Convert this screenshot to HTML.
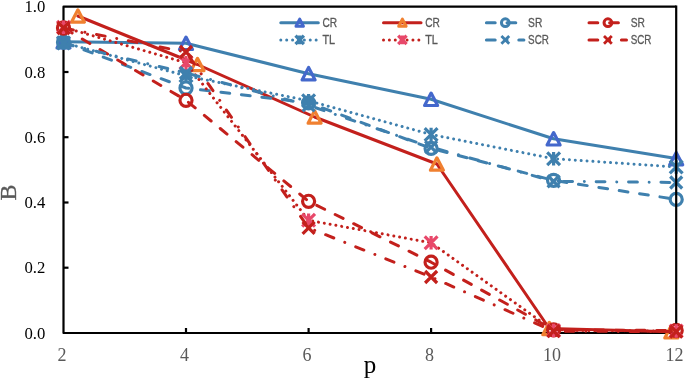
<!DOCTYPE html>
<html><head><meta charset="utf-8"><title>chart</title>
<style>
html,body{margin:0;padding:0;background:#fff;}
svg{display:block;will-change:transform;}
.yt{font-family:"Liberation Serif",serif;font-size:16.7px;fill:#000;text-anchor:end;}
.xt{font-family:"Liberation Serif",serif;font-size:18px;fill:#595959;text-anchor:middle;}
.lg{font-family:"Liberation Sans",sans-serif;font-size:12.8px;fill:#595959;stroke:#595959;stroke-width:0.3px;}
</style></head><body>
<svg width="685" height="379" viewBox="0 0 685 379">
<rect width="685" height="379" fill="#fff"/>
<g stroke="#000" stroke-width="2.2" fill="none" stroke-linecap="square">
<path d="M676.2 6.7H63.5V333H676.2" stroke-linejoin="round" stroke-linecap="butt"/>
<path d="M63.5 267.7h5" stroke-linecap="butt"/>
<path d="M63.5 202.5h5" stroke-linecap="butt"/>
<path d="M63.5 137.2h5" stroke-linecap="butt"/>
<path d="M63.5 72.0h5" stroke-linecap="butt"/>
<path d="M186.0 333v-5" stroke-linecap="butt"/>
<path d="M308.6 333v-5" stroke-linecap="butt"/>
<path d="M431.1 333v-5" stroke-linecap="butt"/>
<path d="M553.6 333v-5" stroke-linecap="butt"/>
</g>
<text class="yt" x="45.3" y="338.6">0.0</text>
<text class="yt" x="45.3" y="273.3">0.2</text>
<text class="yt" x="45.3" y="208.1">0.4</text>
<text class="yt" x="45.3" y="142.8">0.6</text>
<text class="yt" x="45.3" y="77.6">0.8</text>
<text class="yt" x="45.3" y="12.3">1.0</text>
<text class="xt" x="61.9" y="360.6">2</text>
<text class="xt" x="184.4" y="360.6">4</text>
<text class="xt" x="307.0" y="360.6">6</text>
<text class="xt" x="429.5" y="360.6">8</text>
<text class="xt" x="552.0" y="360.6">10</text>
<text class="xt" x="674.6" y="360.6">12</text>
<text x="369.9" y="372.6" text-anchor="middle" font-family="'Liberation Serif',serif" font-size="25" fill="#000">p</text>
<text transform="translate(16.0 192.5) rotate(-90)" text-anchor="middle" font-family="'Liberation Serif',serif" font-size="24" fill="#595959" stroke="#595959" stroke-width="0.35">B</text>
<path d="M63.5 41.8L186.0 43.3L308.6 73.7L431.1 99.3L553.6 138.8L676.2 158.6" fill="none" stroke="#3F80AE" stroke-width="3.0" stroke-linejoin="round" stroke-linecap="round"/>
<path d="M63.5 35.6L70.0 48.0L57.0 48.0Z" fill="none" stroke="#4468CC" stroke-width="3.2" stroke-linejoin="round"/>
<path d="M186.0 37.1L192.5 49.5L179.5 49.5Z" fill="none" stroke="#4468CC" stroke-width="3.2" stroke-linejoin="round"/>
<path d="M308.6 67.5L315.1 79.9L302.1 79.9Z" fill="none" stroke="#4468CC" stroke-width="3.2" stroke-linejoin="round"/>
<path d="M431.1 93.1L437.6 105.5L424.6 105.5Z" fill="none" stroke="#4468CC" stroke-width="3.2" stroke-linejoin="round"/>
<path d="M553.6 132.6L560.1 145.0L547.1 145.0Z" fill="none" stroke="#4468CC" stroke-width="3.2" stroke-linejoin="round"/>
<path d="M676.2 152.4L682.7 164.8L669.7 164.8Z" fill="none" stroke="#4468CC" stroke-width="3.2" stroke-linejoin="round"/>
<path d="M77.9 16.0L197.5 64.5L314.6 117.0L436.9 164.0L549.3 328.5L671.3 331.8" fill="none" stroke="#C3201C" stroke-width="3.0" stroke-linejoin="round" stroke-linecap="round"/>
<path d="M77.9 9.8L84.4 22.2L71.4 22.2Z" fill="none" stroke="#F08030" stroke-width="3.2" stroke-linejoin="round"/>
<path d="M197.5 58.3L204.0 70.7L191.0 70.7Z" fill="none" stroke="#F08030" stroke-width="3.2" stroke-linejoin="round"/>
<path d="M314.6 110.8L321.1 123.2L308.1 123.2Z" fill="none" stroke="#F08030" stroke-width="3.2" stroke-linejoin="round"/>
<path d="M436.9 157.8L443.4 170.2L430.4 170.2Z" fill="none" stroke="#F08030" stroke-width="3.2" stroke-linejoin="round"/>
<path d="M549.3 322.3L555.8 334.7L542.8 334.7Z" fill="none" stroke="#F08030" stroke-width="3.2" stroke-linejoin="round"/>
<path d="M671.3 325.6L677.8 338.0L664.8 338.0Z" fill="none" stroke="#F08030" stroke-width="3.2" stroke-linejoin="round"/>
<path d="M63.5 42.2L186.0 88.0L308.6 102.8L431.1 148.4L553.6 180.4L676.2 199.4" fill="none" stroke="#3F80AE" stroke-width="3.0" stroke-linejoin="round" stroke-linecap="round" stroke-dasharray="8.8 11.8" stroke-dashoffset="-1.2"/>
<circle cx="63.5" cy="42.2" r="6.03" fill="none" stroke="#3F80AE" stroke-width="3.2"/>
<circle cx="186.0" cy="88.0" r="6.03" fill="none" stroke="#3F80AE" stroke-width="3.2"/>
<circle cx="308.6" cy="102.8" r="6.03" fill="none" stroke="#3F80AE" stroke-width="3.2"/>
<circle cx="431.1" cy="148.4" r="6.03" fill="none" stroke="#3F80AE" stroke-width="3.2"/>
<circle cx="553.6" cy="180.4" r="6.03" fill="none" stroke="#3F80AE" stroke-width="3.2"/>
<circle cx="676.2" cy="199.4" r="6.03" fill="none" stroke="#3F80AE" stroke-width="3.2"/>
<path d="M63.5 28.0L186.0 100.3L308.6 201.3L431.1 262.2L553.6 329.8L676.2 330.5" fill="none" stroke="#C3201C" stroke-width="3.0" stroke-linejoin="round" stroke-linecap="round" stroke-dasharray="8.8 11.8" stroke-dashoffset="-1.2"/>
<circle cx="63.5" cy="28.0" r="6.03" fill="none" stroke="#C3201C" stroke-width="3.2"/>
<circle cx="186.0" cy="100.3" r="6.03" fill="none" stroke="#C3201C" stroke-width="3.2"/>
<circle cx="308.6" cy="201.3" r="6.03" fill="none" stroke="#C3201C" stroke-width="3.2"/>
<circle cx="431.1" cy="262.2" r="6.03" fill="none" stroke="#C3201C" stroke-width="3.2"/>
<circle cx="553.6" cy="329.8" r="6.03" fill="none" stroke="#C3201C" stroke-width="3.2"/>
<circle cx="676.2" cy="330.5" r="6.03" fill="none" stroke="#C3201C" stroke-width="3.2"/>
<path d="M63.5 42.7L186.0 75.8L308.6 100.8L431.1 134.5L553.6 158.7L676.2 167.0" fill="none" stroke="#3F80AE" stroke-width="3.0" stroke-linejoin="round" stroke-linecap="round" stroke-dasharray="0.01 5.88" stroke-dashoffset="-1.47"/>
<path d="M57.1 36.3L69.9 49.1M57.1 49.1L69.9 36.3M63.5 36.0L63.5 49.4" fill="none" stroke="#3F80AE" stroke-width="3.2" stroke-linecap="butt"/>
<path d="M179.6 69.4L192.4 82.2M179.6 82.2L192.4 69.4M186.0 69.1L186.0 82.5" fill="none" stroke="#3F80AE" stroke-width="3.2" stroke-linecap="butt"/>
<path d="M302.2 94.4L315.0 107.2M302.2 107.2L315.0 94.4M308.6 94.1L308.6 107.5" fill="none" stroke="#3F80AE" stroke-width="3.2" stroke-linecap="butt"/>
<path d="M424.7 128.1L437.5 140.9M424.7 140.9L437.5 128.1M431.1 127.8L431.1 141.2" fill="none" stroke="#3F80AE" stroke-width="3.2" stroke-linecap="butt"/>
<path d="M547.2 152.3L560.0 165.1M547.2 165.1L560.0 152.3M553.6 152.0L553.6 165.4" fill="none" stroke="#3F80AE" stroke-width="3.2" stroke-linecap="butt"/>
<path d="M669.8 160.6L682.6 173.4M669.8 173.4L682.6 160.6M676.2 160.3L676.2 173.7" fill="none" stroke="#3F80AE" stroke-width="3.2" stroke-linecap="butt"/>
<path d="M63.5 27.3L186.0 62.8L308.6 220.3L431.1 242.8L553.6 330.5L676.2 331.0" fill="none" stroke="#C3201C" stroke-width="3.0" stroke-linejoin="round" stroke-linecap="round" stroke-dasharray="0.01 5.88" stroke-dashoffset="-1.47"/>
<path d="M57.1 20.9L69.9 33.7M57.1 33.7L69.9 20.9M63.5 20.6L63.5 34.0" fill="none" stroke="#E8486A" stroke-width="3.2" stroke-linecap="butt"/>
<path d="M179.6 56.4L192.4 69.2M179.6 69.2L192.4 56.4M186.0 56.1L186.0 69.5" fill="none" stroke="#E8486A" stroke-width="3.2" stroke-linecap="butt"/>
<path d="M302.2 213.9L315.0 226.7M302.2 226.7L315.0 213.9M308.6 213.6L308.6 227.0" fill="none" stroke="#E8486A" stroke-width="3.2" stroke-linecap="butt"/>
<path d="M424.7 236.4L437.5 249.2M424.7 249.2L437.5 236.4M431.1 236.1L431.1 249.5" fill="none" stroke="#E8486A" stroke-width="3.2" stroke-linecap="butt"/>
<path d="M547.2 324.1L560.0 336.9M547.2 336.9L560.0 324.1M553.6 323.8L553.6 337.2" fill="none" stroke="#E8486A" stroke-width="3.2" stroke-linecap="butt"/>
<path d="M669.8 324.6L682.6 337.4M669.8 337.4L682.6 324.6M676.2 324.3L676.2 337.7" fill="none" stroke="#E8486A" stroke-width="3.2" stroke-linecap="butt"/>
<path d="M63.5 43.4L186.0 73.0L308.6 105.3L431.1 147.2L553.6 181.3L676.2 182.5" fill="none" stroke="#3F80AE" stroke-width="3.0" stroke-linejoin="round" stroke-linecap="round" stroke-dasharray="8.8 11.8 0.01 11.79" stroke-dashoffset="-1.2"/>
<path d="M57.5 37.4L69.5 49.4M57.5 49.4L69.5 37.4" fill="none" stroke="#3F80AE" stroke-width="3.2" stroke-linecap="butt"/>
<path d="M180.0 67.0L192.0 79.0M180.0 79.0L192.0 67.0" fill="none" stroke="#3F80AE" stroke-width="3.2" stroke-linecap="butt"/>
<path d="M302.6 99.3L314.6 111.3M302.6 111.3L314.6 99.3" fill="none" stroke="#3F80AE" stroke-width="3.2" stroke-linecap="butt"/>
<path d="M425.1 141.2L437.1 153.2M425.1 153.2L437.1 141.2" fill="none" stroke="#3F80AE" stroke-width="3.2" stroke-linecap="butt"/>
<path d="M547.6 175.3L559.6 187.3M547.6 187.3L559.6 175.3" fill="none" stroke="#3F80AE" stroke-width="3.2" stroke-linecap="butt"/>
<path d="M670.2 176.5L682.2 188.5M670.2 188.5L682.2 176.5" fill="none" stroke="#3F80AE" stroke-width="3.2" stroke-linecap="butt"/>
<path d="M63.5 28.0L186.0 52.0L308.6 227.9L431.1 277.0L553.6 331.2L676.2 331.6" fill="none" stroke="#C3201C" stroke-width="3.0" stroke-linejoin="round" stroke-linecap="round" stroke-dasharray="8.8 11.8 0.01 11.79" stroke-dashoffset="-1.2"/>
<path d="M57.5 22.0L69.5 34.0M57.5 34.0L69.5 22.0" fill="none" stroke="#C3201C" stroke-width="3.2" stroke-linecap="butt"/>
<path d="M180.0 46.0L192.0 58.0M180.0 58.0L192.0 46.0" fill="none" stroke="#C3201C" stroke-width="3.2" stroke-linecap="butt"/>
<path d="M302.6 221.9L314.6 233.9M302.6 233.9L314.6 221.9" fill="none" stroke="#C3201C" stroke-width="3.2" stroke-linecap="butt"/>
<path d="M425.1 271.0L437.1 283.0M425.1 283.0L437.1 271.0" fill="none" stroke="#C3201C" stroke-width="3.2" stroke-linecap="butt"/>
<path d="M547.6 325.2L559.6 337.2M547.6 337.2L559.6 325.2" fill="none" stroke="#C3201C" stroke-width="3.2" stroke-linecap="butt"/>
<path d="M670.2 325.6L682.2 337.6M670.2 337.6L682.2 325.6" fill="none" stroke="#C3201C" stroke-width="3.2" stroke-linecap="butt"/>
<path d="M676.2 5.6V323.4" stroke="#000" stroke-width="2.2" fill="none"/>
<path d="M280.8 22.7H318.3" fill="none" stroke="#3F80AE" stroke-width="3.0" stroke-linecap="round"/>
<path d="M299.7 19.1L303.4 26.3L296.0 26.3Z" fill="none" stroke="#4468CC" stroke-width="3.0" stroke-linejoin="round"/>
<text class="lg" x="322.5" y="26.8" textLength="14.7" lengthAdjust="spacingAndGlyphs">CR</text>
<path d="M383.5 22.7H421.0" fill="none" stroke="#C3201C" stroke-width="3.0" stroke-linecap="round"/>
<path d="M402.4 19.1L406.1 26.3L398.7 26.3Z" fill="none" stroke="#F08030" stroke-width="3.0" stroke-linejoin="round"/>
<text class="lg" x="425.2" y="26.8" textLength="14.7" lengthAdjust="spacingAndGlyphs">CR</text>
<path d="M486.4 22.7H523.9" fill="none" stroke="#3F80AE" stroke-width="3.0" stroke-linecap="round" stroke-dasharray="8.8 11.8"/>
<circle cx="505.3" cy="22.7" r="3.87" fill="none" stroke="#3F80AE" stroke-width="3.0"/>
<text class="lg" x="528.1" y="26.8" textLength="14.2" lengthAdjust="spacingAndGlyphs">SR</text>
<path d="M589.0 22.7H626.5" fill="none" stroke="#C3201C" stroke-width="3.0" stroke-linecap="round" stroke-dasharray="8.8 11.8"/>
<circle cx="607.9" cy="22.7" r="3.87" fill="none" stroke="#C3201C" stroke-width="3.0"/>
<text class="lg" x="630.7" y="26.8" textLength="14.2" lengthAdjust="spacingAndGlyphs">SR</text>
<path d="M280.8 39.9H318.3" fill="none" stroke="#3F80AE" stroke-width="3.0" stroke-linecap="round" stroke-dasharray="0.01 5.88"/>
<path d="M295.5 35.7L303.9 44.1M295.5 44.1L303.9 35.7M299.7 35.5L299.7 44.3" fill="none" stroke="#3F80AE" stroke-width="3.3" stroke-linecap="butt"/>
<text class="lg" x="322.5" y="44.0" textLength="12.6" lengthAdjust="spacingAndGlyphs">TL</text>
<path d="M383.5 39.9H421.0" fill="none" stroke="#C3201C" stroke-width="3.0" stroke-linecap="round" stroke-dasharray="0.01 5.88"/>
<path d="M398.2 35.7L406.6 44.1M398.2 44.1L406.6 35.7M402.4 35.5L402.4 44.3" fill="none" stroke="#E8486A" stroke-width="3.3" stroke-linecap="butt"/>
<text class="lg" x="425.2" y="44.0" textLength="12.6" lengthAdjust="spacingAndGlyphs">TL</text>
<path d="M486.4 39.9H523.9" fill="none" stroke="#3F80AE" stroke-width="3.0" stroke-linecap="round" stroke-dasharray="8.8 11.8 0.01 11.79"/>
<path d="M501.4 36.0L509.2 43.8M501.4 43.8L509.2 36.0" fill="none" stroke="#3F80AE" stroke-width="2.8" stroke-linecap="butt"/>
<text class="lg" x="528.1" y="44.0" textLength="20.8" lengthAdjust="spacingAndGlyphs">SCR</text>
<path d="M589.0 39.9H626.5" fill="none" stroke="#C3201C" stroke-width="3.0" stroke-linecap="round" stroke-dasharray="8.8 11.8 0.01 11.79"/>
<path d="M604.0 36.0L611.8 43.8M604.0 43.8L611.8 36.0" fill="none" stroke="#C3201C" stroke-width="2.8" stroke-linecap="butt"/>
<text class="lg" x="630.7" y="44.0" textLength="20.8" lengthAdjust="spacingAndGlyphs">SCR</text>
</svg></body></html>
